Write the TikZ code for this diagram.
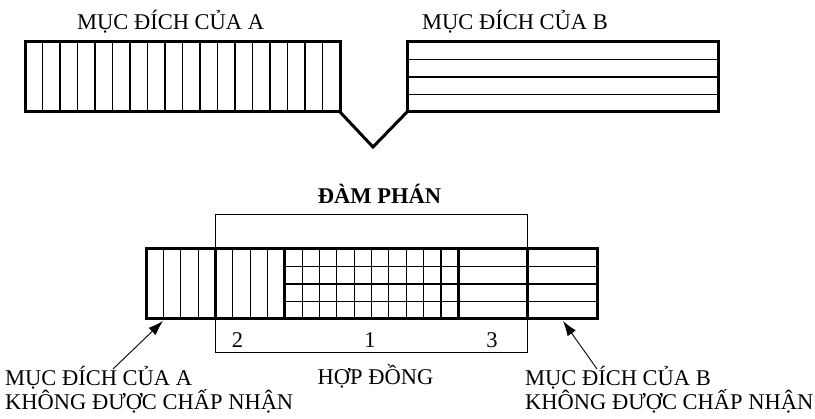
\documentclass[tikz,border=0pt]{standalone}
\usepackage{fontspec}
\setmainfont{Liberation Serif}
\usetikzlibrary{arrows.meta}
\begin{document}
\begin{tikzpicture}[x=1pt,y=-1pt,
  box/.style={draw, line width=3pt, inner sep=0pt, outer sep=0pt, anchor=north west, minimum height=70pt},
  hatch/.style={line width=1.1pt},
  frameline/.style={draw, line width=1pt, inner sep=0pt, outer sep=0pt, anchor=north west},
  lab/.style={inner sep=0pt, anchor=base west, font=\fontsize{22.5}{24}\selectfont},
  clab/.style={inner sep=0pt, anchor=base, font=\fontsize{22.5}{24}\selectfont},
  arr/.style={line width=0.9pt, -{Latex[length=15pt,width=10pt]}}
]
\useasboundingbox (0,0) rectangle (815,419);

% ---------- top goals ----------
\node[box, minimum width=315pt] (ga) at (25,42) {};
\foreach \i in {1,...,17}
  \draw[hatch] ([xshift=\i*17.5pt]ga.north west) -- ([xshift=\i*17.5pt]ga.south west);
\node[box, minimum width=311pt] (gb) at (407,42) {};
\foreach \j in {1,2,3}
  \draw[hatch] ([yshift=-\j*17.5pt]gb.north west) -- ([yshift=-\j*17.5pt]gb.north east);
\coordinate (v) at (373,147);
\draw[line width=3pt, line join=miter] (ga.south east) -- (v) -- (gb.south west);

\node[lab] (tA) at (77,30) {MỤC ĐÍCH CỦA A};
\node[lab] (tB) at (422,30) {MỤC ĐÍCH CỦA B};

% ---------- negotiation / contract frame ----------
\node[frameline, minimum width=312.3pt, minimum height=138pt] (hd) at (215.4,215) {};

% ---------- lower bar ----------
\node[box, minimum width=69.4pt] (r0) at (146,249) {};
\node[box, minimum width=69.4pt] (r2) at (215.4,249) {};
\node[box, minimum width=173.5pt] (r1) at (284.8,249) {};
\node[box, minimum width=69.4pt] (r3) at (458.3,249) {};
\node[box, minimum width=69.4pt] (r4) at (527.7,249) {};

\foreach \n in {r0,r2}
  \foreach \i in {1,2,3}
    \draw[hatch] ([xshift=\i*17.35pt]\n.north west) -- ([xshift=\i*17.35pt]\n.south west);
\foreach \i in {1,...,9}
  \draw[hatch] ([xshift=\i*17.35pt]r1.north west) -- ([xshift=\i*17.35pt]r1.south west);
\foreach \n in {r1,r3,r4}
  \foreach \j in {1,2,3}
    \draw[hatch] ([yshift=-\j*17.5pt]\n.north west) -- ([yshift=-\j*17.5pt]\n.north east);

% redraw borders on top
\foreach \n in {r0,r2,r1,r3,r4}
  \draw[line width=3pt] (\n.north west) rectangle (\n.south east);

% ---------- labels ----------
\node[clab, font=\fontsize{22.5}{24}\selectfont\bfseries] (dp) at (379.5,204) {ĐÀM PHÁN};
\node[clab] (n2) at (237.5,348) {2};
\node[clab] (n1) at (370,348) {1};
\node[clab] (n3) at (492,348) {3};
\node[clab] (hdl) at (375.5,385) {HỢP ĐỒNG};

\node[lab] (la1) at (5,386) {MỤC ĐÍCH CỦA A};
\node[lab] (la2) at (5,410) {KHÔNG ĐƯỢC CHẤP NHẬN};
\node[lab] (lb1) at (525,386) {MỤC ĐÍCH CỦA B};
\node[lab] (lb2) at (525,410) {KHÔNG ĐƯỢC CHẤP NHẬN};

% ---------- arrows ----------
\coordinate (aT) at (113,369);
\coordinate (aH) at (163,321);
\coordinate (bT) at (597,369);
\coordinate (bH) at (563,321);
\draw[arr] (aT) -- (aH);
\draw[arr] (bT) -- (bH);
\end{tikzpicture}
\end{document}
